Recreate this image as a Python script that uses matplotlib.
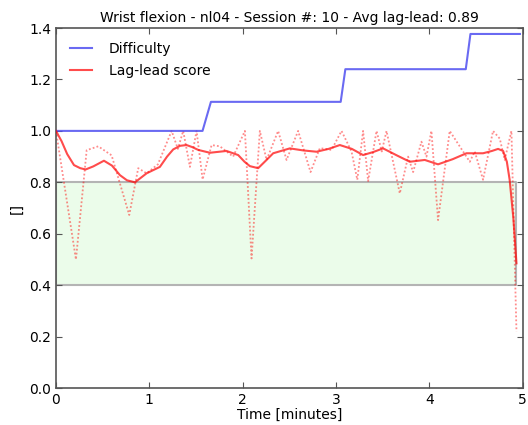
#!/usr/bin/env python3

import matplotlib
matplotlib.use("Agg")
import matplotlib.pyplot as plt

# raw lag-lead score per trial (dotted)
raw_time = [0.0, 0.214, 0.329, 0.453, 0.596, 0.785, 0.881, 0.971, 1.092,
            1.239, 1.306, 1.363, 1.435, 1.506, 1.571, 1.667, 1.756, 1.898,
            2.024, 2.095, 2.184, 2.256, 2.380, 2.470, 2.594, 2.727, 2.827,
            2.952, 3.059, 3.166, 3.228, 3.290, 3.344, 3.434, 3.490, 3.541,
            3.683, 3.772, 3.826, 3.915, 3.969, 4.022, 4.093, 4.218, 4.325,
            4.433, 4.486, 4.575, 4.682, 4.754, 4.807, 4.879, 4.933]
raw_score = [1.0, 0.50, 0.925, 0.94, 0.905, 0.673, 0.855, 0.835, 0.87,
             1.0, 0.93, 1.0, 0.86, 1.0, 0.811, 0.945, 0.94, 0.90,
             1.0, 0.504, 1.0, 0.887, 1.0, 0.887, 1.0, 0.84, 0.933,
             0.926, 1.0, 0.92, 0.81, 1.0, 0.805, 1.0, 0.92, 1.0,
             0.757, 0.90, 0.84, 0.958, 0.90, 1.0, 0.653, 1.0, 0.94,
             0.88, 0.92, 0.81, 1.0, 0.97, 0.887, 1.0, 0.22]

# smoothed lag-lead score
smooth_time = [0.0, 0.06, 0.12, 0.193, 0.26, 0.318, 0.40, 0.514, 0.60,
               0.685, 0.76, 0.846, 0.971, 1.113, 1.19, 1.256, 1.33, 1.399,
               1.46, 1.524, 1.649, 1.827, 1.952, 2.02, 2.077, 2.166, 2.25,
               2.327, 2.505, 2.65, 2.791, 2.92, 3.041, 3.17, 3.290, 3.40,
               3.504, 3.65, 3.790, 3.951, 4.093, 4.25, 4.397, 4.575, 4.67,
               4.736, 4.790, 4.830, 4.860, 4.900, 4.933]
smooth_score = [1.0, 0.96, 0.91, 0.867, 0.855, 0.85, 0.862, 0.884, 0.865,
                0.828, 0.808, 0.80, 0.835, 0.86, 0.90, 0.928, 0.942, 0.945,
                0.937, 0.926, 0.915, 0.922, 0.906, 0.88, 0.863, 0.855, 0.885,
                0.913, 0.932, 0.924, 0.919, 0.93, 0.945, 0.93, 0.906, 0.918,
                0.932, 0.905, 0.88, 0.887, 0.87, 0.89, 0.913, 0.913, 0.922,
                0.93, 0.922, 0.88, 0.81, 0.66, 0.485]

# difficulty steps
diff_time = [0.0, 1.57, 1.66, 3.05, 3.10, 4.39, 4.44, 4.97]
diff_level = [1.0, 1.0, 1.113, 1.113, 1.24, 1.24, 1.377, 1.377]

band_time = [0.0, 4.933]
band_low = 0.4
band_high = 0.8


def main():
    fig = plt.figure(figsize=(5.28, 4.25), dpi=100)
    ax = fig.add_axes([0.106, 0.087, 0.884, 0.847])

    ax.fill_between(band_time, band_low, band_high, facecolor="#ebfcea",
                    edgecolor="#b4b4b4", linewidth=1.5, zorder=1)
    ax.plot(diff_time, diff_level, color="#5050f0", alpha=0.85, lw=1.5,
            label="Difficulty", zorder=3)
    ax.plot(smooth_time, smooth_score, color="red", alpha=0.7, lw=1.5,
            label="Lag-lead score", zorder=3)
    ax.plot(raw_time, raw_score, color="red", alpha=0.45, lw=1.3,
            linestyle=(0, (1, 1.2)), zorder=2)

    ax.set_xlim(0, 5)
    ax.set_ylim(0, 1.4)
    ax.set_xticks([0, 1, 2, 3, 4, 5])
    ax.set_yticks([0.0, 0.2, 0.4, 0.6, 0.8, 1.0, 1.2, 1.4])
    ax.tick_params(direction="in", top=True, right=True, labelsize=10,
                   length=4, color="#555555")
    for s in ax.spines.values():
        s.set_color("#555555")
        s.set_linewidth(1.2)

    ax.set_title("Wrist flexion - nl04 - Session #: 10 - Avg lag-lead: 0.89",
                 fontsize=10, pad=4)
    ax.set_xlabel("Time [minutes]", fontsize=10, labelpad=1)
    ax.set_ylabel("[]", fontsize=10)
    ax.legend(loc="upper left", frameon=False, fontsize=10,
              handlelength=1.6, handletextpad=1.2, labelspacing=0.6,
              borderaxespad=0.5, borderpad=0.5)

    fig.savefig("out.png", dpi=100, facecolor="white")


if __name__ == "__main__":
    main()
